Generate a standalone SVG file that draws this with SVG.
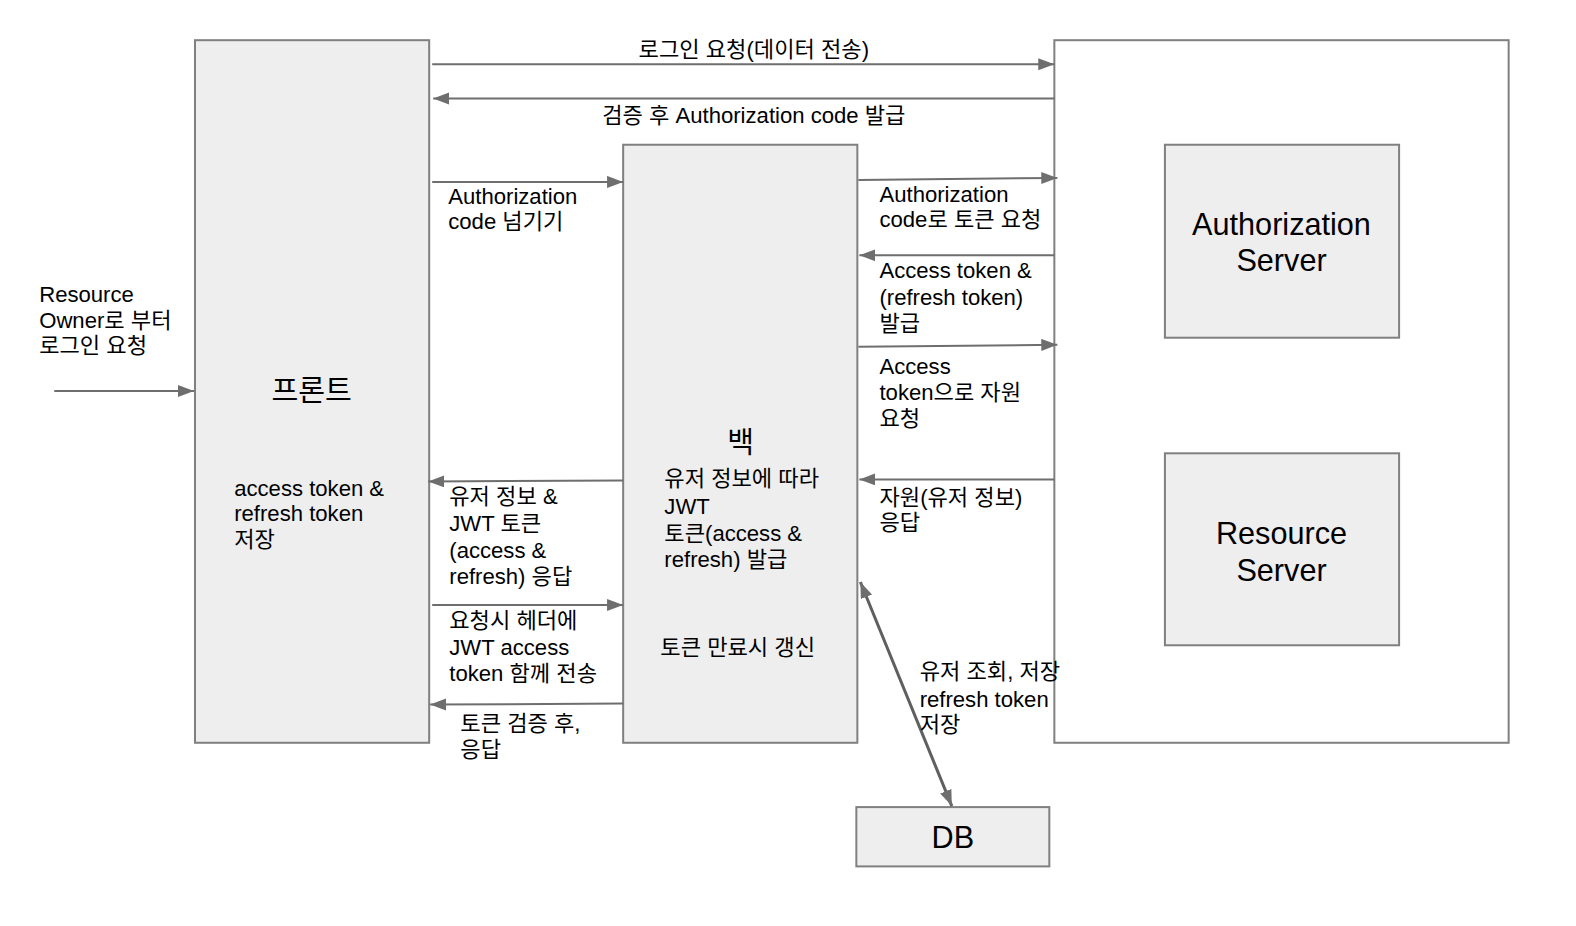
<svg xmlns="http://www.w3.org/2000/svg" width="1576" height="926" viewBox="0 0 1576 926">
<style>
.box{fill:#eeeeee;stroke:#808080;stroke-width:2}
.outer{fill:#ffffff;stroke:#808080;stroke-width:2}
.ln{stroke:#6e6e6e;stroke-width:2;fill:none}
.ln2{stroke:#5f5f5f;stroke-width:3;fill:none}
text{font-family:"Liberation Sans","Noto Sans CJK KR",sans-serif;fill:#000}
.lb{font-size:22px}
.big{font-size:30.5px;text-anchor:middle}
.ttl{font-size:29px;text-anchor:middle}
.mid{text-anchor:middle}
</style>
<defs>
<marker id="ah" markerUnits="userSpaceOnUse" markerWidth="17" markerHeight="13" refX="16" refY="6" orient="auto-start-reverse">
<path d="M0,0 L16,6 L0,12 z" fill="#6e6e6e"/>
</marker>
</defs>
<g transform="scale(1.0051)">
<g id="outer">
<rect class="outer" x="1049" y="40" width="452" height="699"/>
</g>

<g id="front">
<rect class="box" x="194" y="40" width="233" height="699"/>
<text class="ttl" x="310" y="399">프론트</text>
<text class="lb" x="233" y="493">access token &amp;</text>
<text class="lb" x="233" y="518">refresh token</text>
<text class="lb" x="233" y="544">저장</text>
</g>

<g id="back">
<rect class="box" x="620" y="144" width="233" height="595"/>
<text class="ttl" x="737" y="451">백</text>
<text class="lb" x="661" y="484">유저 정보에 따라</text>
<text class="lb" x="661" y="511">JWT</text>
<text class="lb" x="661" y="538">토큰(access &amp;</text>
<text class="lb" x="661" y="564">refresh) 발급</text>
<text class="lb" x="657" y="652">토큰 만료시 갱신</text>
</g>

<g id="authserver">
<rect class="box" x="1159" y="144" width="233" height="192"/>
<text class="big" x="1275" y="234">Authorization</text>
<text class="big" x="1275" y="270">Server</text>
</g>

<g id="resserver">
<rect class="box" x="1159" y="451" width="233" height="191"/>
<text class="big" x="1275" y="541">Resource</text>
<text class="big" x="1275" y="578">Server</text>
</g>

<g id="db">
<rect class="box" x="852" y="803" width="192" height="59"/>
<text class="big" x="948" y="844">DB</text>
</g>

<g id="connectors">
<line class="ln" x1="54" y1="389" x2="193" y2="389" marker-end="url(#ah)"/>
<line class="ln" x1="430" y1="64" x2="1049" y2="64" marker-end="url(#ah)"/>
<line class="ln" x1="1049" y1="98" x2="431" y2="98" marker-end="url(#ah)"/>
<line class="ln" x1="430" y1="181" x2="620" y2="181" marker-end="url(#ah)"/>
<line class="ln" x1="854" y1="179" x2="1052" y2="177" marker-end="url(#ah)"/>
<line class="ln" x1="1049" y1="254" x2="855" y2="254" marker-end="url(#ah)"/>
<line class="ln" x1="854" y1="345" x2="1052" y2="343" marker-end="url(#ah)"/>
<line class="ln" x1="1049" y1="477" x2="855" y2="477" marker-end="url(#ah)"/>
<line class="ln" x1="620" y1="478" x2="426" y2="479" marker-end="url(#ah)"/>
<line class="ln" x1="430" y1="602" x2="620" y2="602" marker-end="url(#ah)"/>
<line class="ln" x1="620" y1="700" x2="428" y2="701" marker-end="url(#ah)"/>
<line class="ln2" x1="856" y1="579" x2="947" y2="802" marker-start="url(#ah)" marker-end="url(#ah)"/>
</g>

<g id="labels">
<text class="lb mid" x="750" y="57">로그인 요청(데이터 전송)</text>
<text class="lb mid" x="750" y="122">검증 후 Authorization code 발급</text>
<text class="lb" x="446" y="203">Authorization</text>
<text class="lb" x="446" y="228">code 넘기기</text>
<text class="lb" x="875" y="201">Authorization</text>
<text class="lb" x="875" y="226">code로 토큰 요청</text>
<text class="lb" x="875" y="277">Access token &amp;</text>
<text class="lb" x="875" y="303">(refresh token)</text>
<text class="lb" x="875" y="329">발급</text>
<text class="lb" x="875" y="372">Access</text>
<text class="lb" x="875" y="398">token으로 자원</text>
<text class="lb" x="875" y="424">요청</text>
<text class="lb" x="875" y="502">자원(유저 정보)</text>
<text class="lb" x="875" y="527">응답</text>
<text class="lb" x="447" y="501">유저 정보 &amp;</text>
<text class="lb" x="447" y="528">JWT 토큰</text>
<text class="lb" x="447" y="555">(access &amp;</text>
<text class="lb" x="447" y="581">refresh) 응답</text>
<text class="lb" x="447" y="625">요청시 헤더에</text>
<text class="lb" x="447" y="652">JWT access</text>
<text class="lb" x="447" y="678">token 함께 전송</text>
<text class="lb" x="458" y="727">토큰 검증 후,</text>
<text class="lb" x="458" y="753">응답</text>
<text class="lb" x="39" y="300">Resource</text>
<text class="lb" x="39" y="326">Owner로 부터</text>
<text class="lb" x="39" y="351">로그인 요청</text>
<text class="lb" x="915" y="676">유저 조회, 저장</text>
<text class="lb" x="915" y="703">refresh token</text>
<text class="lb" x="915" y="728">저장</text>
</g>
</g>
</svg>
